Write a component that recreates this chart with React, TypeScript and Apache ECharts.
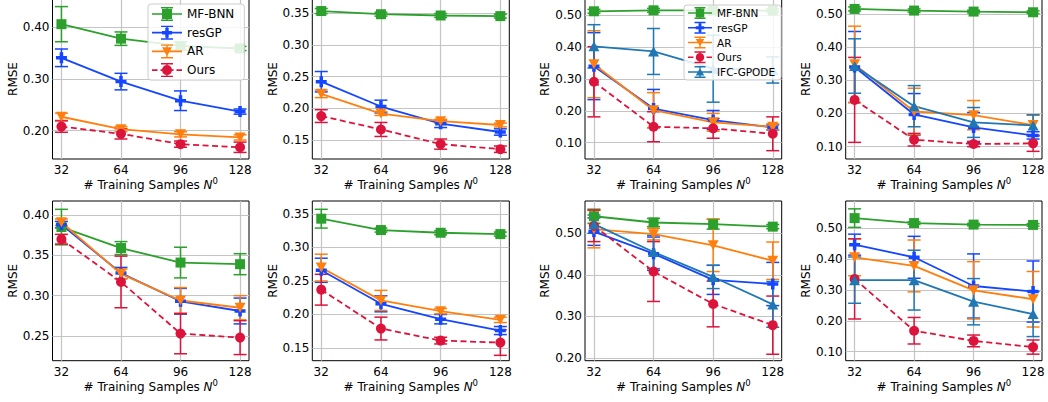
import React, { useEffect, useRef } from 'react';
import * as echarts from 'echarts';

// ---------- data ----------
const N0 = [32, 64, 96, 128];
const methodNames = ['MF-BNN', 'resGP', 'AR', 'Ours', 'IFC-GPODE'];

// method order: MF-BNN, resGP, AR, Ours, (IFC-GPODE)
const p1Mean = [
  [0.406, 0.378, 0.364, 0.359],
  [0.341, 0.295, 0.258, 0.237],
  [0.227, 0.203, 0.193, 0.187],
  [0.208, 0.194, 0.174, 0.168],
];
const p1Err = [
  [0.034, 0.013, 0.008, 0.004],
  [0.017, 0.016, 0.019, 0.005],
  [0.007, 0.005, 0.005, 0.005],
  [0.011, 0.010, 0.006, 0.010],
];
const p2Mean = [
  [0.353, 0.348, 0.346, 0.345],
  [0.242, 0.203, 0.176, 0.163],
  [0.223, 0.192, 0.180, 0.174],
  [0.188, 0.167, 0.144, 0.136],
];
const p2Err = [
  [0.004, 0.003, 0.003, 0.003],
  [0.016, 0.010, 0.006, 0.005],
  [0.006, 0.003, 0.003, 0.003],
  [0.010, 0.011, 0.008, 0.005],
];
const p3Mean = [
  [0.512, 0.515, 0.515, 0.514],
  [0.340, 0.207, 0.171, 0.148],
  [0.346, 0.202, 0.164, 0.150],
  [0.291, 0.150, 0.145, 0.128],
  [0.402, 0.386, 0.332, 0.328],
];
const p3Err = [
  [0.006, 0.006, 0.005, 0.005],
  [0.105, 0.060, 0.030, 0.008],
  [0.105, 0.055, 0.028, 0.009],
  [0.110, 0.047, 0.031, 0.053],
  [0.068, 0.072, 0.105, 0.041],
];
const p4Mean = [
  [0.515, 0.510, 0.507, 0.505],
  [0.340, 0.197, 0.158, 0.134],
  [0.348, 0.206, 0.195, 0.165],
  [0.241, 0.121, 0.108, 0.110],
  [0.343, 0.222, 0.173, 0.164],
];
const p4Err = [
  [0.006, 0.005, 0.004, 0.004],
  [0.107, 0.063, 0.045, 0.011],
  [0.115, 0.070, 0.044, 0.030],
  [0.128, 0.019, 0.008, 0.024],
  [0.082, 0.062, 0.045, 0.032],
];
const p5Mean = [
  [0.385, 0.359, 0.341, 0.339],
  [0.388, 0.328, 0.293, 0.281],
  [0.391, 0.327, 0.294, 0.285],
  [0.370, 0.317, 0.253, 0.248],
];
const p5Err = [
  [0.022, 0.008, 0.019, 0.013],
  [0.004, 0.007, 0.016, 0.016],
  [0.004, 0.006, 0.016, 0.015],
  [0.006, 0.032, 0.025, 0.021],
];
const p6Mean = [
  [0.343, 0.326, 0.322, 0.320],
  [0.266, 0.216, 0.193, 0.176],
  [0.270, 0.221, 0.205, 0.192],
  [0.237, 0.179, 0.161, 0.158],
];
const p6Err = [
  [0.014, 0.003, 0.003, 0.003],
  [0.018, 0.012, 0.007, 0.006],
  [0.020, 0.015, 0.004, 0.004],
  [0.023, 0.017, 0.005, 0.019],
];
const p7Mean = [
  [0.541, 0.526, 0.522, 0.516],
  [0.504, 0.451, 0.388, 0.378],
  [0.510, 0.498, 0.471, 0.434],
  [0.518, 0.408, 0.330, 0.279],
  [0.522, 0.455, 0.395, 0.329],
];
const p7Err = [
  [0.017, 0.010, 0.012, 0.005],
  [0.033, 0.040, 0.035, 0.052],
  [0.045, 0.014, 0.063, 0.045],
  [0.038, 0.072, 0.055, 0.070],
  [0.022, 0.040, 0.028, 0.055],
];
const p8Mean = [
  [0.533, 0.517, 0.512, 0.511],
  [0.447, 0.406, 0.313, 0.295],
  [0.406, 0.378, 0.299, 0.270],
  [0.336, 0.168, 0.135, 0.115],
  [0.332, 0.332, 0.262, 0.222],
];
const p8Err = [
  [0.030, 0.004, 0.004, 0.004],
  [0.034, 0.068, 0.104, 0.099],
  [0.060, 0.084, 0.093, 0.090],
  [0.130, 0.043, 0.019, 0.023],
  [0.075, 0.097, 0.075, 0.073],
];

// y tick labels per panel
const p1YTicks = [0.2, 0.3, 0.4];
const p2YTicks = [0.15, 0.2, 0.25, 0.3, 0.35];
const p3YTicks = [0.1, 0.2, 0.3, 0.4, 0.5];
const p4YTicks = [0.1, 0.2, 0.3, 0.4, 0.5];
const p5YTicks = [0.25, 0.3, 0.35, 0.4];
const p6YTicks = [0.15, 0.2, 0.25, 0.3, 0.35];
const p7YTicks = [0.2, 0.3, 0.4, 0.5];
const p8YTicks = [0.1, 0.2, 0.3, 0.4, 0.5];

// ---------- layout / style ----------
const yLimits = [
  [0.1453, 0.4547],
  [0.1206, 0.3719],
  [0.0489, 0.5505],
  [0.0629, 0.5449],
  [0.2194, 0.4173],
  [0.131, 0.3694],
  [0.1935, 0.5777],
  [0.0708, 0.5885],
];
const xLimits = [27.2, 132.8];
const colLeft = [52.5, 312.3, 585, 845.7];
const colWidth = [196.5, 197, 196.7, 196.3];
const rowTop = [-1, 201];
const rowHeight = [160, 159.7];

const FONT = 'DejaVu Sans';
const GRID_COLOR = '#c4c4c4';
const methodColors = ['#2ca02c', '#1546ff', '#ff7f0e', '#dc143c', '#1f77b4'];
const methodSymbols = [
  'rect',
  'path://M3.4,0H6.6V3.4H10V6.6H6.6V10H3.4V6.6H0V3.4H3.4Z',
  'path://M0,0H10L5,9Z',
  'circle',
  'path://M5,0L10,9H0Z',
];
const methodSymbolSizes: any[] = [10, 11, [11, 10], 10, [11, 10]];
const markerKinds = ['square', 'plus', 'down', 'circle', 'up'];

const f = (n: number) => Math.round(n * 100) / 100;
function rectP(x0: number, y0: number, x1: number, y1: number) {
  return `M${f(x0)},${f(y0)}H${f(x1)}V${f(y1)}H${f(x0)}Z`;
}
// legend handle like matplotlib's errorbar handle: line + error bar with caps + marker
function legendIcon(kind: string, W: number, H: number, m: number, capW: number, dashed: boolean) {
  const cx = W / 2;
  const cy = H / 2;
  const lw = 1.7;
  const bw = 1.4;
  let d = '';
  if (dashed) {
    const segs = [[0, 5.5], [8.5, W - 8.5], [W - 5.5, W]];
    segs.forEach(([a, b]) => (d += rectP(a, cy - lw / 2, b, cy + lw / 2)));
  } else {
    d += rectP(0, cy - lw / 2, W, cy + lw / 2);
  }
  d += rectP(cx - bw / 2, 0, cx + bw / 2, H);
  d += rectP(cx - capW / 2, 0, cx + capW / 2, bw);
  d += rectP(cx - capW / 2, H - bw, cx + capW / 2, H);
  const r = m / 2;
  if (kind === 'square') d += rectP(cx - r, cy - r, cx + r, cy + r);
  else if (kind === 'plus') {
    const a = m * 0.17;
    d += rectP(cx - r, cy - a, cx + r, cy + a);
    d += rectP(cx - a, cy - r, cx + a, cy + r);
  } else if (kind === 'down') {
    d += `M${f(cx - r)},${f(cy - m * 0.42)}H${f(cx + r)}L${f(cx)},${f(cy + m * 0.48)}Z`;
  } else if (kind === 'up') {
    d += `M${f(cx)},${f(cy - m * 0.48)}L${f(cx + r)},${f(cy + m * 0.42)}H${f(cx - r)}Z`;
  } else {
    d += `M${f(cx - r)},${f(cy)}A${f(r)},${f(r)} 0 1,1 ${f(cx + r)},${f(cy)}A${f(r)},${f(r)} 0 1,1 ${f(cx - r)},${f(cy)}Z`;
  }
  return 'path://' + d;
}

function buildOption() {
  const means = [p1Mean, p2Mean, p3Mean, p4Mean, p5Mean, p6Mean, p7Mean, p8Mean];
  const errs = [p1Err, p2Err, p3Err, p4Err, p5Err, p6Err, p7Err, p8Err];
  const yTicks = [p1YTicks, p2YTicks, p3YTicks, p4YTicks, p5YTicks, p6YTicks, p7YTicks, p8YTicks];
  const grid: any[] = [];
  const xAxis: any[] = [];
  const yAxis: any[] = [];
  const series: any[] = [];

  means.forEach((pm, i) => {
    const row = Math.floor(i / 4);
    const col = i % 4;
    grid.push({
      left: colLeft[col],
      top: rowTop[row],
      width: colWidth[col],
      height: rowHeight[row],
      show: true,
      borderColor: '#000',
      borderWidth: 1,
      backgroundColor: 'transparent',
      containLabel: false,
      outerBoundsMode: 'none',
    });
    xAxis.push({
      type: 'value',
      gridIndex: i,
      min: xLimits[0],
      max: xLimits[1],
      axisLine: { show: false },
      axisTick: { show: false, customValues: N0 },
      axisLabel: {
        customValues: N0,
        color: '#000',
        fontSize: 12,
        fontFamily: FONT,
        margin: 5,
      },
      splitLine: { show: true, lineStyle: { color: GRID_COLOR, width: 1.2 } },
      name: '# Training Samples {n|N}{s|0}',
      nameLocation: 'middle',
      nameGap: row === 0 ? 16 : 18,
      nameTextStyle: {
        color: '#000',
        fontSize: 12,
        fontFamily: FONT,
        lineHeight: 16,
        rich: {
          n: { fontStyle: 'italic', fontSize: 12, fontFamily: FONT, color: '#000', lineHeight: 16 },
          s: { fontSize: 8.5, fontFamily: FONT, color: '#000', verticalAlign: 'top', lineHeight: 9 },
        },
      },
    });
    yAxis.push({
      type: 'value',
      gridIndex: i,
      min: yLimits[i][0],
      max: yLimits[i][1],
      axisLine: { show: false },
      axisTick: { show: false, customValues: yTicks[i] },
      axisLabel: {
        customValues: yTicks[i],
        formatter: (v: number) => v.toFixed(2),
        color: '#000',
        fontSize: 12,
        fontFamily: FONT,
        margin: 3,
      },
      splitLine: { show: true, lineStyle: { color: GRID_COLOR, width: 1.2 } },
      name: 'RMSE',
      nameLocation: 'middle',
      nameGap: 33,
      nameRotate: 90,
      nameTextStyle: { color: '#000', fontSize: 12, fontFamily: FONT },
    });

    pm.forEach((vals, k) => {
      const color = methodColors[k];
      const errData = vals.map((v, j) => [N0[j], v, errs[i][k][j]]);
      series.push({
        type: 'custom',
        name: methodNames[k] + ' err',
        xAxisIndex: i,
        yAxisIndex: i,
        silent: true,
        z: 2,
        encode: { x: 0, y: 1 },
        data: errData,
        renderItem: (params: any, api: any) => {
          const x = api.value(0);
          const y = api.value(1);
          const e = api.value(2);
          const t = api.coord([x, y + e]);
          const b = api.coord([x, y - e]);
          const hw = 6.5;
          const st = { stroke: color, lineWidth: 1.5 };
          return {
            type: 'group',
            children: [
              { type: 'line', shape: { x1: t[0], y1: t[1], x2: b[0], y2: b[1] }, style: st },
              { type: 'line', shape: { x1: t[0] - hw, y1: t[1], x2: t[0] + hw, y2: t[1] }, style: st },
              { type: 'line', shape: { x1: b[0] - hw, y1: b[1], x2: b[0] + hw, y2: b[1] }, style: st },
            ],
          };
        },
      });
      series.push({
        type: 'line',
        name: methodNames[k],
        xAxisIndex: i,
        yAxisIndex: i,
        silent: true,
        z: 2,
        data: vals.map((v, j) => [N0[j], v]),
        symbol: methodSymbols[k],
        symbolSize: methodSymbolSizes[k],
        showSymbol: true,
        itemStyle: { color, borderWidth: 0 },
        lineStyle: { color, width: 1.8, type: k === 3 ? [6, 3.5] : 'solid' },
        emphasis: { disabled: true },
      });
    });
  });

  const legendBase = {
    orient: 'vertical',
    selectedMode: false,
    backgroundColor: 'rgba(255,255,255,0.85)',
    borderColor: '#cccccc',
    borderWidth: 1,
    borderRadius: 3,
    z: 10,
    itemStyle: { borderWidth: 0 },
  };

  return {
    animation: false,
    backgroundColor: '#fff',
    grid,
    xAxis,
    yAxis,
    series,
    legend: [
      {
        ...legendBase,
        data: methodNames.slice(0, 4).map((n, k) => ({
          name: n,
          icon: legendIcon(markerKinds[k], 30, 14, 10, 12, k === 3),
        })),
        left: 148,
        top: 4,
        itemWidth: 30,
        itemHeight: 14,
        itemGap: 4.7,
        padding: [3, 10, 3, 4],
        textStyle: { fontSize: 12, fontFamily: FONT, color: '#000', lineHeight: 14 },
      },
      {
        ...legendBase,
        data: methodNames.map((n, k) => ({
          name: n,
          icon: legendIcon(markerKinds[k], 24, 12, 8.5, 11, k === 3),
        })),
        left: 684,
        top: 5,
        itemWidth: 24,
        itemHeight: 12,
        itemGap: 2.75,
        padding: [2, 6, 2, 4],
        textStyle: { fontSize: 10.5, fontFamily: FONT, color: '#000', lineHeight: 12 },
      },
    ],
  };
}

export default function App() {
  const ref = useRef<HTMLDivElement>(null);
  useEffect(() => {
    const chart = echarts.init(ref.current!, null, { renderer: 'svg' });
    chart.setOption(buildOption() as any);
    return () => chart.dispose();
  }, []);
  return (
    <div
      ref={ref}
      style={{ position: 'fixed', left: 0, top: 0, width: 1048, height: 402, background: '#fff' }}
    />
  );
}
